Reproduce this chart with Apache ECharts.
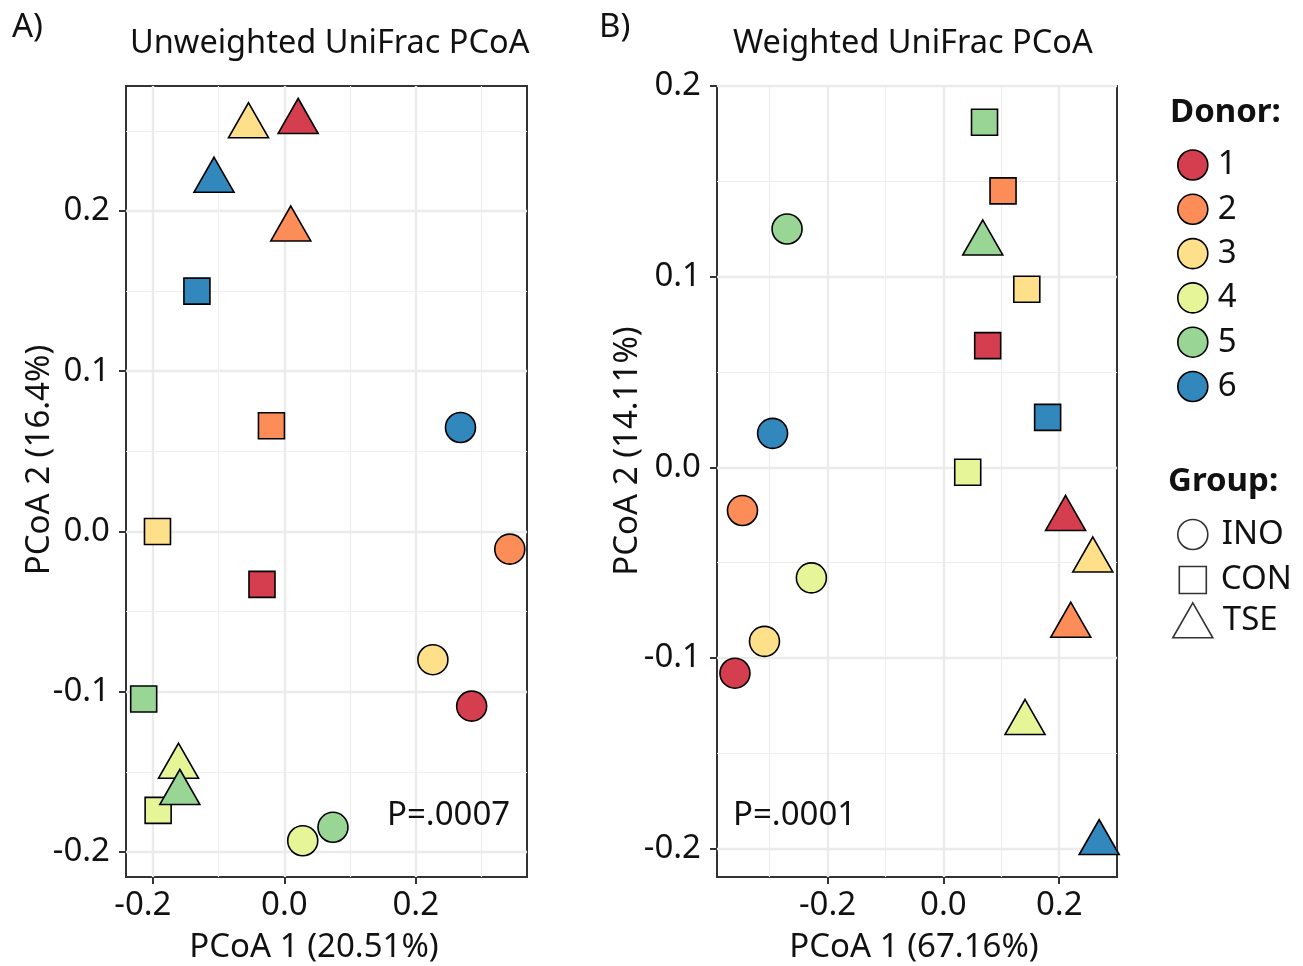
<!DOCTYPE html>
<html>
<head>
<meta charset="utf-8">
<script src="https://cdn.jsdelivr.net/npm/echarts@6/dist/echarts.min.js"></script>
<style>
html,body{margin:0;padding:0;background:#fff;}
#c{width:1303px;height:966px;}
</style>
</head>
<body>
<div id="c"></div>
<script>
// ---- data ----
const donors = ['1', '2', '3', '4', '5', '6'];
const groups = ['INO', 'CON', 'TSE'];

// Panel A: Unweighted UniFrac PCoA (values per donor 1..6)
const unwINO_x = [0.285, 0.343, 0.226, 0.028, 0.074, 0.268];
const unwINO_y = [-0.109, -0.011, -0.080, -0.193, -0.1846, 0.0649];
const unwCON_x = [-0.034, -0.0196, -0.193, -0.192, -0.214, -0.133];
const unwCON_y = [-0.033, 0.066, 0.000, -0.174, -0.1045, 0.150];
const unwTSE_x = [0.021, 0.0098, -0.0545, -0.161, -0.159, -0.107];
const unwTSE_y = [0.2557, 0.1886, 0.253, -0.1467, -0.163, 0.219];

// Panel B: Weighted UniFrac PCoA
const wINO_x = [-0.360, -0.347, -0.309, -0.228, -0.270, -0.295];
const wINO_y = [-0.108, -0.0227, -0.0913, -0.058, 0.125, 0.0178];
const wCON_x = [0.0765, 0.103, 0.144, 0.042, 0.071, 0.180];
const wCON_y = [0.0638, 0.145, 0.0934, -0.0026, 0.181, 0.0262];
const wTSE_x = [0.211, 0.220, 0.258, 0.141, 0.068, 0.269];
const wTSE_y = [-0.027, -0.083, -0.0488, -0.134, 0.1175, -0.197];

// axis ranges and tick values
const rangeA_x = [-0.2409, 0.3692];
const rangeA_y = [-0.2156, 0.278];
const rangeB_x = [-0.391, 0.2998];
const rangeB_y = [-0.2149, 0.2];
const ticksA_x = [-0.2, 0.0, 0.2];
const ticksA_y = [-0.2, -0.1, 0.0, 0.1, 0.2];
const ticksB_x = [-0.2, 0.0, 0.2];
const ticksB_y = [-0.2, -0.1, 0.0, 0.1, 0.2];
const minorA_x = [-0.1, 0.1, 0.3];
const minorA_y = [-0.15, -0.05, 0.05, 0.15, 0.25];
const minorB_x = [-0.3, -0.1, 0.1];
const minorB_y = [-0.15, -0.05, 0.05, 0.15];

const titleA = 'Unweighted UniFrac PCoA';
const titleB = 'Weighted UniFrac PCoA';
const xNameA = 'PCoA 1 (20.51%)';
const yNameA = 'PCoA 2 (16.4%)';
const xNameB = 'PCoA 1 (67.16%)';
const yNameB = 'PCoA 2 (14.11%)';
const pA = 'P=.0007';
const pB = 'P=.0001';

// ---- styles ----
const colors = ['#D53E4F', '#FC8D59', '#FEE08B', '#E6F598', '#99D594', '#3288BD'];
const FF = '"Noto Sans", sans-serif';
const FS = 33;
const TXT = '#111';

const chart = echarts.init(document.getElementById('c'), null, {renderer: 'canvas'});

function fmt(v) { return (Math.round(v * 10) / 10).toFixed(1); }

function xAxisDef(gi, range, ticks, shiftNeg) {
  return {
    type: 'value', gridIndex: gi, min: range[0], max: range[1],
    splitLine: {show: false},
    axisLine: {show: true, onZero: false, lineStyle: {color: '#333', width: 2}},
    axisTick: {show: true, length: 7, inside: false, customValues: ticks, lineStyle: {color: '#333', width: 2}},
    axisLabel: {show: true, customValues: ticks,
      formatter: function (v) {
        const s = fmt(v);
        return (shiftNeg && v < 0) ? '{n|' + s + '}' : '{p|' + s + '}';
      },
      rich: {
        n: {fontSize: FS, fontFamily: FF, color: TXT, padding: [0, 20, 0, 0]},
        p: {fontSize: FS, fontFamily: FF, color: TXT}
      },
      margin: 12, fontSize: FS, fontFamily: FF, color: TXT, showMinLabel: true, showMaxLabel: true}
  };
}
function yAxisDef(gi, range, ticks) {
  return {
    type: 'value', gridIndex: gi, min: range[0], max: range[1],
    splitLine: {show: false},
    axisLine: {show: true, onZero: false, lineStyle: {color: '#333', width: 2}},
    axisTick: {show: true, length: 7, inside: false, customValues: ticks, lineStyle: {color: '#333', width: 2}},
    axisLabel: {show: true, customValues: ticks, formatter: fmt, margin: 16, fontSize: FS, fontFamily: FF, color: TXT, showMinLabel: true, showMaxLabel: true}
  };
}

function gridSeries(gi, xMaj, xMin, yMaj, yMin) {
  const d = [];
  xMin.forEach(v => d.push({xAxis: v, lineStyle: {color: '#EEEEEE', width: 1.2, type: 'solid'}}));
  yMin.forEach(v => d.push({yAxis: v, lineStyle: {color: '#EEEEEE', width: 1.2, type: 'solid'}}));
  xMaj.forEach(v => d.push({xAxis: v, lineStyle: {color: '#EBEBEB', width: 2.4, type: 'solid'}}));
  yMaj.forEach(v => d.push({yAxis: v, lineStyle: {color: '#EBEBEB', width: 2.4, type: 'solid'}}));
  return {
    type: 'scatter', xAxisIndex: gi, yAxisIndex: gi, data: [], silent: true, z: 1,
    markLine: {silent: true, z: 1, symbol: ['none', 'none'], label: {show: false}, animation: false,
      lineStyle: {type: 'solid'}, emphasis: {disabled: true}, data: d}
  };
}

function donorSeries(gi, ix, iy, cx, cy, tx, ty) {
  return donors.map((name, d) => ({
    name: name, type: 'scatter', xAxisIndex: gi, yAxisIndex: gi, z: 4,
    itemStyle: {color: colors[d], borderColor: '#000', borderWidth: 1.6, opacity: 1},
    emphasis: {disabled: true},
    data: [
      {value: [ix[d], iy[d]], symbol: 'circle', symbolSize: 30},
      {value: [cx[d], cy[d]], symbol: 'rect', symbolSize: 26},
      {value: [tx[d], ty[d]], symbol: 'triangle', symbolSize: [40, 35], symbolOffset: [0, -5.8]}
    ]
  }));
}

const groupSeries = [
  {name: 'INO', type: 'scatter', data: [], xAxisIndex: 0, yAxisIndex: 0, itemStyle: {color: '#fff', borderColor: '#000', borderWidth: 1.6}},
  {name: 'CON', type: 'scatter', data: [], xAxisIndex: 0, yAxisIndex: 0, itemStyle: {color: '#fff', borderColor: '#000', borderWidth: 1.6}},
  {name: 'TSE', type: 'scatter', data: [], xAxisIndex: 0, yAxisIndex: 0, itemStyle: {color: '#fff', borderColor: '#000', borderWidth: 1.6}}
];

function txt(text, x, y, opts) {
  opts = opts || {};
  return {
    type: 'text', x: x, y: y, rotation: opts.rotation || 0, silent: true, z: 10,
    style: {text: text, fontSize: opts.fs || FS, fontFamily: FF, fontWeight: opts.fw || 'normal',
      fill: opts.fill || TXT, align: opts.align || 'left', verticalAlign: 'middle'}
  };
}

const legTextBase = {fontSize: FS, fontFamily: FF, color: TXT, lineHeight: 30};

const option = {
  animation: false,
  backgroundColor: '#fff',
  grid: [
    {left: 126, top: 86, width: 401, height: 791, show: true, borderColor: '#333', borderWidth: 2, backgroundColor: '#fff'},
    {left: 717, top: 86, width: 400, height: 791, show: true, borderColor: '#333', borderWidth: 2, backgroundColor: '#fff'}
  ],
  xAxis: [xAxisDef(0, rangeA_x, ticksA_x, true), xAxisDef(1, rangeB_x, ticksB_x, false)],
  yAxis: [yAxisDef(0, rangeA_y, ticksA_y), yAxisDef(1, rangeB_y, ticksB_y)],
  legend: [
    {orient: 'vertical', left: 1177, top: 148.5, padding: 0, itemWidth: 30, itemHeight: 30, itemGap: 11.3,
      selectedMode: false, icon: 'circle', data: donors,
      itemStyle: {borderColor: '#000', borderWidth: 1.6},
      textStyle: Object.assign({padding: [0, 0, 0, 5]}, legTextBase)},
    {orient: 'vertical', left: 1177, top: 518, padding: 0, itemWidth: 30, itemHeight: 30,
      selectedMode: false, data: [{name: 'INO', icon: 'circle'}],
      itemStyle: {color: '#fff', borderColor: '#000', borderWidth: 1.6},
      textStyle: Object.assign({padding: [0, 0, 0, 9]}, legTextBase)},
    {orient: 'vertical', left: 1178.5, top: 563.5, padding: 0, itemWidth: 27, itemHeight: 27,
      selectedMode: false, data: [{name: 'CON', icon: 'rect'}],
      itemStyle: {color: '#fff', borderColor: '#000', borderWidth: 1.6},
      textStyle: Object.assign({padding: [0, 0, 0, 9.5]}, legTextBase)},
    {orient: 'vertical', left: 1172, top: 602, padding: 0, itemWidth: 40, itemHeight: 35,
      selectedMode: false, data: [{name: 'TSE', icon: 'triangle'}],
      itemStyle: {color: '#fff', borderColor: '#000', borderWidth: 1.6},
      textStyle: Object.assign({padding: [0, 0, 0, 5]}, legTextBase)}
  ],
  graphic: [
    txt('A)', 12, 28),
    txt(titleA, 130, 44, {fs: 32.5}),
    txt('B)', 599, 28),
    txt(titleB, 733, 44, {fs: 32.5}),
    txt(xNameA, 314, 948, {align: 'center'}),
    txt(xNameB, 914, 948, {align: 'center'}),
    txt(yNameA, 40, 460, {align: 'center', rotation: Math.PI / 2}),
    txt(yNameB, 628, 451, {align: 'center', rotation: Math.PI / 2}),
    txt(pA, 387, 816),
    txt(pB, 733, 816),
    txt('Donor:', 1170, 113, {fw: 'bold'}),
    txt('Group:', 1168, 482, {fw: 'bold'})
  ],
  series: [
    gridSeries(0, ticksA_x, minorA_x, ticksA_y, minorA_y),
    gridSeries(1, ticksB_x, minorB_x, ticksB_y, minorB_y)
  ].concat(
    donorSeries(0, unwINO_x, unwINO_y, unwCON_x, unwCON_y, unwTSE_x, unwTSE_y),
    donorSeries(1, wINO_x, wINO_y, wCON_x, wCON_y, wTSE_x, wTSE_y),
    groupSeries
  )
};
chart.setOption(option);
</script>
</body>
</html>
